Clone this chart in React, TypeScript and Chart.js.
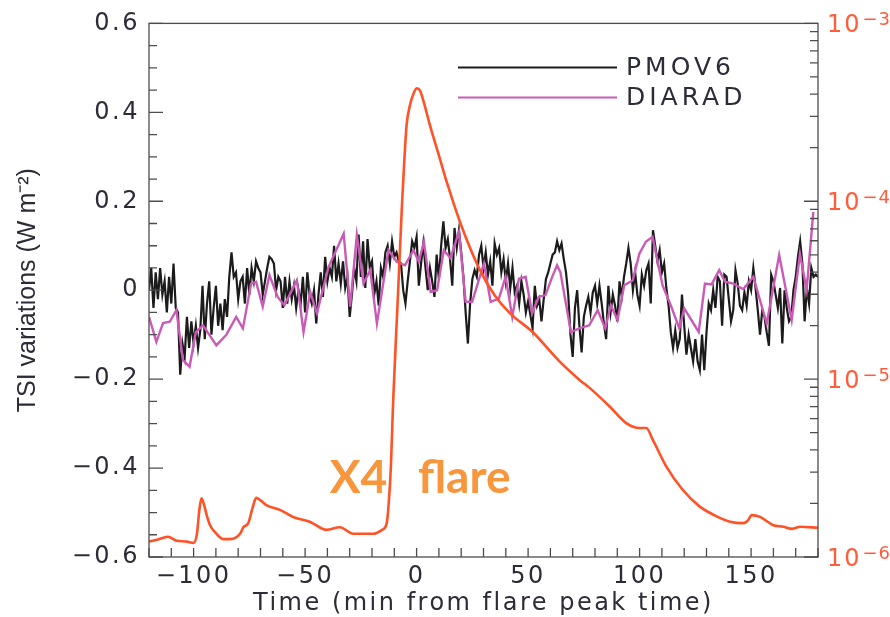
import { useEffect, useRef } from 'react';
import { Chart, registerables } from 'chart.js';

Chart.register(...registerables);

// PMO6V radiometer, one-minute samples starting at t = -120 min (W m^-2)
const PMOV6_START = -120;
const pmov6Values = [
  0.0, 0.05, -0.04, 0.04, -0.02, 0.05, -0.01, 0.02, -0.05, 0.03, -0.03, 0.06, -0.04, -0.05, -0.19, -0.12, -0.15, -0.06, -0.13, -0.07,
  -0.12, -0.08, -0.13, -0.09, 0.01, -0.11, -0.03, 0.02, -0.1, -0.04, 0.01, -0.08, -0.03, -0.09, -0.02, -0.06, 0.03, 0.085, 0.03, 0.04,
  -0.02, 0.02, 0.03, -0.03, 0.05, -0.01, 0.05, 0.02, 0.065, 0.05, 0.04, -0.01, 0.02, 0.05, 0.075, 0.07, 0.06, 0.0, 0.03, 0.02,
  -0.04, 0.03, -0.03, 0.02, -0.02, 0.01, -0.04, 0.0, -0.03, 0.03, -0.05, 0.04, -0.01, -0.03, 0.0, -0.075, -0.01, 0.04, -0.015, 0.075,
  0.02, 0.05, 0.03, 0.1, 0.02, 0.06, 0.015, 0.065, 0.005, 0.03, -0.06, -0.01, 0.05, 0.02, 0.125, 0.03, 0.11, 0.005, 0.115, 0.05,
  0.065, -0.01, 0.02, -0.035, 0.05, 0.03, 0.085, 0.1, 0.06, 0.11, 0.075, 0.085, 0.065, 0.06, 0.0, -0.03, 0.02, 0.065, 0.11, 0.095,
  0.12, 0.01, 0.06, 0.105, 0.05, 0.0, 0.05, 0.02, -0.015, 0.08, 0.025, 0.1, 0.155, 0.095, 0.115, 0.07, 0.01, 0.14, 0.095, 0.135,
  0.085, 0.03, -0.05, -0.12, -0.03, 0.025, 0.045, 0.03, 0.08, 0.1, 0.05, 0.085, 0.035, 0.065, 0.01, 0.105, 0.08, 0.095, 0.04, 0.07,
  0.02, 0.06, 0.005, 0.05, -0.005, 0.01, -0.03, 0.02, -0.01, -0.05, -0.025, -0.055, -0.085, 0.01, -0.035, -0.02, -0.07, -0.02, 0.025, 0.04,
  0.06, 0.08, 0.085, 0.11, 0.09, 0.105, 0.07, 0.04, -0.01, -0.1, -0.15, -0.04, 0.0, -0.08, -0.14, -0.06, -0.035, -0.015, -0.05, -0.005,
  0.01, -0.03, 0.01, -0.03, -0.075, -0.11, 0.01, -0.05, -0.01, -0.035, -0.07, 0.02, -0.015, 0.03, 0.06, 0.095, 0.06, 0.0, 0.04, -0.01,
  -0.035, 0.035, 0.01, 0.045, 0.06, -0.03, 0.135, 0.1, 0.065, 0.09, 0.04, 0.06, 0.005, -0.035, -0.095, -0.13, -0.09, -0.13, -0.11, -0.01,
  -0.08, -0.145, -0.1, -0.13, -0.16, -0.11, -0.16, -0.18, -0.1, -0.18, -0.095, -0.03, -0.045, 0.0, -0.04, 0.03, 0.02, -0.08, 0.035, 0.03,
  -0.02, -0.07, -0.045, 0.045, 0.015, -0.035, -0.045, -0.005, -0.035, 0.02, 0.0, 0.05, 0.005, -0.045, -0.1, -0.045, -0.06, -0.095, -0.125, 0.035,
  0.02, -0.01, -0.04, 0.005, -0.12, 0.0, -0.04, -0.07, -0.06, 0.0, 0.03, 0.075, 0.11, 0.06, -0.07, 0.005, -0.03, 0.05, 0.03, 0.035, 0.03,
];

// DIARAD radiometer samples (min, W m^-2)
const diaradTimes = [
  -120, -116.7, -113.7, -110.7, -107.7, -104.8, -101.8, -99, -95.8, -89.8, -85.4, -80.9, -77.9, -74.2, -72, -69, -66, -62.3, -59.3,
  -53.7, -50.7, -47.7, -44.7, -39.5, -32.7, -29.8, -26.8, -23.8, -20.8, -17.8, -12.6, -8.9, -5.2, -1.4, 1, 3.3, 6.3, 9.2, 12.2,
  15.2, 19, 22, 24.9, 30.2, 33.2, 36.9, 39.9, 42.9, 45.9, 48.9, 51.8, 54.8, 57.8, 60.8, 63, 64.5, 69.2, 73, 77.4, 81.2, 84.6, 87.1,
  90.1, 93.1, 96.9, 99.9, 102.8, 105.8, 110.3, 114, 117.8, 120, 126.5, 129.3, 132.3, 135.7, 138.3, 142, 146.5, 151, 157, 162.6,
  168.2, 171.9, 174.9, 177.9,
];
const diaradValues = [
  -0.06, -0.116, -0.074, -0.071, -0.045, -0.157, -0.172, -0.094, -0.079, -0.124, -0.101, -0.06, -0.086, 0.015, 0.019, -0.037, 0.034, -0.015, -0.034,
  0.022, -0.094, -0.004, -0.052, 0.052, 0.127, -0.037, 0.124, 0.015, 0.045, -0.075, 0.09, 0.064, 0.056, 0.09, 0.064, 0.109, -0.004, 0.0, 0.09,
  0.072, 0.131, -0.026, -0.026, 0.06, -0.026, -0.019, 0.03, -0.06, 0.026, 0.03, -0.052, -0.015, -0.011, 0.03, 0.056, 0.04, -0.094, -0.086, -0.079, -0.045, -0.086, -0.034,
  -0.067, 0.011, 0.022, 0.082, 0.109, 0.12, 0.011, -0.034, -0.086, -0.041, -0.094, 0.015, 0.013, 0.045, 0.019, 0.015, 0.002, 0.03, -0.075, 0.079,
  -0.067, 0.082, 0.0, 0.176,
];

// GOES soft X-ray flux (min, W m^-2)
const goesTimes = [
  -120, -116.4, -111.5, -108, -103, -100, -98.5, -97.5, -96.5, -95.5, -94, -92.5, -90.4, -86.7, -83.6, -79, -77.7, -75.5, -73.5,
  -71.9, -70, -67.4, -61.3, -55.4, -47.9, -40.4, -34.4, -28.4, -19.4, -15.5, -13.4, -12.5, -11.5, -10.5, -8.5, -6.5, -5.5, -4.5,
  -3, -1.5, 0, 1.5, 3, 6, 10, 13.3, 20, 28.4, 35, 41.8, 52, 64.3, 73.2, 77.7, 86.7, 94, 100, 103, 106, 112, 119.4, 127, 136,
  140.5, 146.4, 148.5, 150.3, 154, 160, 164.5, 168.4, 172, 180,
];
const goesFlux = [
  1.22e-6, 1.25e-6, 1.3e-6, 1.24e-6, 1.22e-6, 1.2e-6, 1.35e-6, 1.8e-6, 2.14e-6, 2.0e-6, 1.7e-6, 1.5e-6, 1.38e-6, 1.26e-6, 1.26e-6, 1.36e-6, 1.47e-6, 1.55e-6, 1.9e-6,
  2.15e-6, 2.08e-6, 1.96e-6, 1.84e-6, 1.68e-6, 1.58e-6, 1.42e-6, 1.47e-6, 1.35e-6, 1.35e-6, 1.42e-6, 1.55e-6, 2.0e-6, 3.3e-6, 7.6e-6, 2.71e-5, 9.9e-5, 1.7e-4, 2.67e-4,
  3.46e-4, 3.99e-4, 4.31e-4, 4.2e-4, 3.69e-4, 2.67e-4, 1.81e-4, 1.31e-4, 7.33e-5, 4.1e-5, 2.96e-5, 2.35e-5, 1.84e-5, 1.25e-5, 9.87e-6, 8.9e-6, 6.99e-6, 5.66e-6, 5.31e-6, 5.31e-6, 4.54e-6, 3.22e-6, 2.38e-6, 1.92e-6, 1.66e-6,
  1.58e-6, 1.55e-6, 1.6e-6, 1.72e-6, 1.68e-6, 1.51e-6, 1.48e-6, 1.44e-6, 1.48e-6, 1.46e-6,
];

const timeLabels = [-100, -50, 0, 50, 100, 150];
const tsiLabels = [-0.6, -0.4, -0.2, 0, 0.2, 0.4, 0.6];
const fluxDecades = [1e-6, 1e-5, 1e-4, 1e-3];
const fluxExponents = ['\u22126', '\u22125', '\u22124', '\u22123'];

const TEXT = '#2c2c38';
const AXIS = '#4d4d4d';
const ORANGE = '#ff5226';
const ORANGE_LABEL = '#ff5c3a';
const MAGENTA = '#c95bb6';
const BLACK = '#1b1b1b';
const NOTE = '#f7963c';
const SANS = '"DejaVu Sans", sans-serif';
const TRACK = '2.5px';

const fmtMinus = (v: number) => (v < 0 ? '\u2212' + String(Math.abs(v)) : String(v));

function timeTicks() {
  const out: { value: number }[] = [];
  for (let t = -120; t <= 180; t += 10) out.push({ value: t });
  return out;
}
function tsiTicks() {
  const out: { value: number }[] = [];
  for (let k = -12; k <= 12; k++) out.push({ value: Number((k * 0.05).toFixed(2)) });
  return out;
}
function fluxTicks() {
  const out: { value: number }[] = [];
  for (let e = -6; e < -3; e++) for (let m = 1; m <= 9; m++) out.push({ value: Number((m * Math.pow(10, e)).toPrecision(3)) });
  out.push({ value: 1e-3 });
  return out;
}
const isDecade = (v: number) => Math.abs(Math.log10(v) - Math.round(Math.log10(v))) < 1e-6;
const isTsiMajor = (v: number) => tsiLabels.some((l) => Math.abs(l - v) < 1e-6);

// Tick labels are drawn after the datasets with tracked lettering; the y title keeps normal spacing.
const spacingPlugin = {
  id: 'spacing',
  beforeDraw(chart: any) {
    chart.ctx.letterSpacing = '0px';
  },
  afterDatasetsDraw(chart: any) {
    chart.ctx.letterSpacing = TRACK;
  },
};

const framePlugin = {
  id: 'frame',
  afterDraw(chart: any) {
    const { ctx, chartArea: a } = chart;
    const sx = chart.scales.x;
    const sy = chart.scales.y;
    const sr = chart.scales.yR;
    ctx.save();
    ctx.letterSpacing = '0px';
    ctx.strokeStyle = AXIS;
    ctx.lineWidth = 1.3;
    ctx.beginPath();
    for (const t of sx.ticks) {
      const p = sx.getPixelForValue(t.value);
      ctx.moveTo(p, a.bottom);
      ctx.lineTo(p, a.bottom - 9);
    }
    for (const t of sy.ticks) {
      const p = sy.getPixelForValue(t.value);
      ctx.moveTo(a.left, p);
      ctx.lineTo(a.left + (isTsiMajor(t.value) ? 14 : 8), p);
    }
    for (const t of sr.ticks) {
      const p = sr.getPixelForValue(t.value);
      ctx.moveTo(a.right, p);
      ctx.lineTo(a.right - (isDecade(t.value) ? 14 : 8), p);
    }
    ctx.stroke();
    ctx.strokeRect(a.left, a.top, a.right - a.left, a.bottom - a.top);

    // right-axis decade labels: base with raised exponent
    ctx.fillStyle = ORANGE_LABEL;
    ctx.textAlign = 'left';
    ctx.textBaseline = 'alphabetic';
    fluxDecades.forEach((d, i) => {
      const p = sr.getPixelForValue(d);
      const x0 = a.right + 9;
      ctx.letterSpacing = '2px';
      ctx.font = '24px ' + SANS;
      ctx.fillText('10', x0, p + 8.5);
      const w = ctx.measureText('10').width;
      ctx.letterSpacing = '1px';
      ctx.font = '18px ' + SANS;
      ctx.fillText(fluxExponents[i], x0 + w + 1, p + 2);
    });

    // legend
    const lx0 = a.left + 309;
    const lx1 = a.left + 468;
    const rows = [
      { label: 'PMOV6', color: BLACK, y: a.top + 44 },
      { label: 'DIARAD', color: MAGENTA, y: a.top + 74 },
    ];
    ctx.font = '25px ' + SANS;
    ctx.textBaseline = 'middle';
    ctx.textAlign = 'left';
    ctx.letterSpacing = '4px';
    for (const r of rows) {
      ctx.strokeStyle = r.color;
      ctx.lineWidth = 2;
      ctx.beginPath();
      ctx.moveTo(lx0, r.y);
      ctx.lineTo(lx1, r.y);
      ctx.stroke();
      ctx.fillStyle = TEXT;
      ctx.fillText(r.label, lx1 + 9, r.y + 1);
    }

    // flare annotation
    ctx.letterSpacing = '0px';
    ctx.font = 'bold 46px Lato, "Liberation Sans", sans-serif';
    ctx.fillStyle = NOTE;
    ctx.textBaseline = 'alphabetic';
    const by = sy.getPixelForValue(-0.455);
    ctx.fillText('X4', sx.getPixelForValue(-39), by);
    ctx.fillText('flare', sx.getPixelForValue(0.6), by);
    ctx.restore();
  },
};

export default function App() {
  const ref = useRef<HTMLCanvasElement>(null);

  useEffect(() => {
    const canvas = ref.current;
    if (!canvas) return;
    const chart = new Chart(canvas, {
      type: 'line',
      data: {
        datasets: [
          {
            label: 'GOES',
            data: goesTimes.map((t, i) => ({ x: t, y: goesFlux[i] })),
            yAxisID: 'yR',
            borderColor: ORANGE,
            borderWidth: 2.6,
            pointRadius: 0,
            cubicInterpolationMode: 'monotone',
            order: 0,
          },
          {
            label: 'DIARAD',
            data: diaradTimes.map((t, i) => ({ x: t, y: diaradValues[i] })),
            yAxisID: 'y',
            borderColor: MAGENTA,
            borderWidth: 2.4,
            pointRadius: 0,
            order: 1,
          },
          {
            label: 'PMOV6',
            data: pmov6Values.map((v, i) => ({ x: PMOV6_START + i, y: v })),
            yAxisID: 'y',
            borderColor: BLACK,
            borderWidth: 2.2,
            pointRadius: 0,
            order: 2,
          },
        ],
      },
      options: {
        responsive: false,
        animation: false,
        devicePixelRatio: 1,
        events: [],
        layout: { padding: { top: 23, left: 0, right: 0, bottom: 0 } },
        plugins: { legend: { display: false }, tooltip: { enabled: false } },
        scales: {
          x: {
            type: 'linear',
            position: 'bottom',
            min: -120,
            max: 180,
            grid: { display: false, drawTicks: false, z: 1 },
            border: { display: false },
            afterBuildTicks: (s: any) => {
              s.ticks = timeTicks();
            },
            afterFit: (s: any) => {
              s.height = 60;
            },
            ticks: {
              z: 1,
              autoSkip: false,
              maxRotation: 0,
              padding: 5,
              color: TEXT,
              font: { family: SANS, size: 24 },
              callback: (v: any) => (timeLabels.includes(Number(v)) ? fmtMinus(Number(v)) : ''),
            },
            title: {
              display: true,
              text: 'Time (min from flare peak time)',
              color: TEXT,
              font: { family: SANS, size: 24 },
              padding: { top: 0, bottom: -1 },
            },
          },
          y: {
            type: 'linear',
            position: 'left',
            min: -0.6,
            max: 0.6,
            grid: { display: false, drawTicks: false },
            border: { display: false },
            afterBuildTicks: (s: any) => {
              s.ticks = tsiTicks();
            },
            afterFit: (s: any) => {
              s.width = 149;
            },
            ticks: {
              z: 1,
              autoSkip: false,
              padding: 9,
              color: TEXT,
              font: { family: SANS, size: 24 },
              callback: (v: any) => {
                const n = Number(v);
                const hit = tsiLabels.find((l) => Math.abs(l - n) < 1e-6);
                return hit === undefined ? '' : fmtMinus(hit);
              },
            },
            title: {
              display: true,
              text: 'TSI variations (W m⁻²)',
              color: TEXT,
              font: { family: '"Liberation Sans", sans-serif', size: 25 },
              padding: { top: 13, bottom: 0 },
            },
          },
          yR: {
            type: 'logarithmic',
            position: 'right',
            min: 1e-6,
            max: 1e-3,
            grid: { display: false, drawTicks: false },
            border: { display: false },
            afterBuildTicks: (s: any) => {
              s.ticks = fluxTicks();
            },
            afterFit: (s: any) => {
              s.width = 72;
            },
            ticks: {
              z: 1,
              autoSkip: false,
              padding: 9,
              color: ORANGE_LABEL,
              font: { family: SANS, size: 24 },
              callback: () => '',
            },
          },
        },
      },
      plugins: [spacingPlugin, framePlugin],
    } as any);
    return () => chart.destroy();
  }, []);

  return (
    <div style={{ position: 'fixed', left: 0, top: 0, width: 890, height: 617, background: '#fff' }}>
      <canvas ref={ref} width={890} height={617} style={{ display: 'block', width: 890, height: 617 }} />
    </div>
  );
}
